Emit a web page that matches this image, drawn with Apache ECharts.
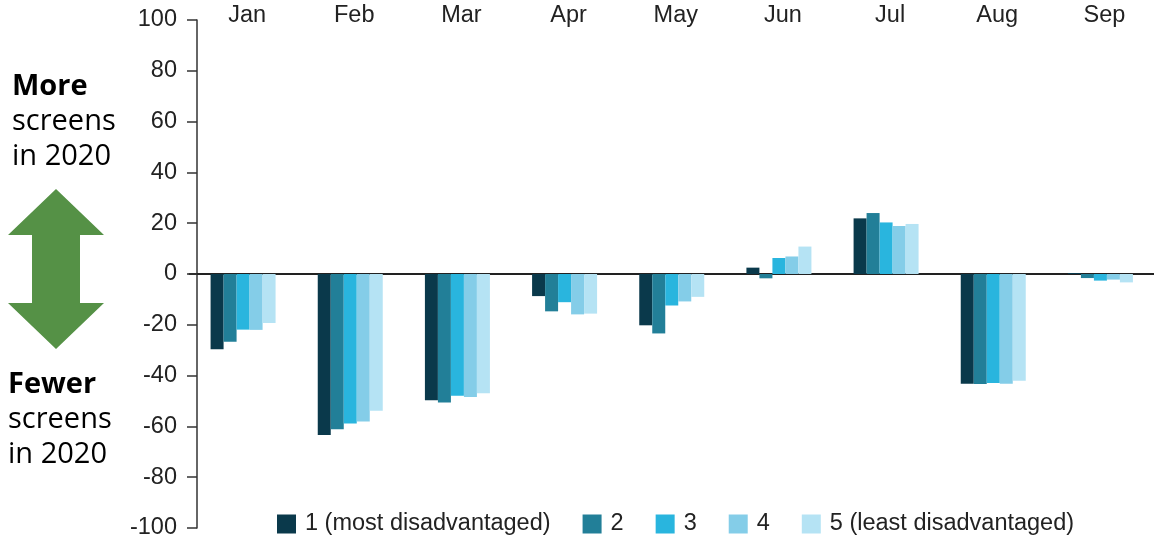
<!DOCTYPE html>
<html>
<head>
<meta charset="utf-8">
<script src="https://cdn.jsdelivr.net/npm/echarts@6/dist/echarts.min.js"></script>
<style>
  html, body { margin: 0; padding: 0; background: #fff; }
  #chart { width: 1154px; height: 540px; }
</style>
</head>
<body>
<div id="chart"></div>
<script>
// months along the top
const months = ['Jan', 'Feb', 'Mar', 'Apr', 'May', 'Jun', 'Jul', 'Aug', 'Sep'];
const groupNames = ['1 (most disadvantaged)', '2', '3', '4', '5 (least disadvantaged)'];
const groupColors = ['#0a394b', '#227f98', '#29b5de', '#84cde8', '#b5e3f4'];

// % change in screens, by disadvantage quintile
const q1 = [-29.6, -63.4, -49.7, -8.7, -20.2, 2.5, 21.9, -43.2, 0.4];
const q2 = [-26.7, -61.1, -50.6, -14.7, -23.4, -1.7, 24.0, -43.3, -1.6];
const q3 = [-21.9, -58.9, -47.9, -11.1, -12.4, 6.3, 20.3, -42.9, -2.6];
const q4 = [-22.0, -58.1, -48.4, -15.9, -10.8, 6.9, 18.9, -43.2, -2.2];
const q5 = [-19.3, -53.8, -46.9, -15.6, -9.0, 10.8, 19.7, -42.0, -3.3];
const quintiles = [q1, q2, q3, q4, q5];

const yTicks = { min: -100, max: 100, step: 20 };

const chart = echarts.init(document.getElementById('chart'));

const series = quintiles.map((vals, i) => ({
  name: groupNames[i],
  type: 'bar',
  data: vals,
  barWidth: 13,
  barGap: '0%',
  itemStyle: { color: groupColors[i] }
}));

// green up/down arrow on the left
const arrowPts = [[56, 189], [104, 235], [80, 235], [80, 303], [104, 303],
  [56, 349], [8, 303], [32, 303], [32, 235], [8, 235]];

const leftText = (txt, x, y, bold) => ({
  type: 'text', left: x, top: y,
  style: {
    text: txt, fill: '#000',
    font: (bold ? 'bold ' : '') + '29px "Open Sans"'
  }
});

chart.setOption({
  animation: false,
  textStyle: { fontFamily: 'Liberation Sans' },
  grid: { left: 189.5, right: -7.5, top: 20, bottom: 8, containLabel: false },
  legend: {
    data: groupNames,
    left: 272, top: 507,
    itemWidth: 19, itemHeight: 19, itemGap: 32,
    icon: 'rect',
    textStyle: { fontSize: 23.5, color: '#222', fontFamily: 'Liberation Sans', padding: [0, 0, 0, 4] }
  },
  xAxis: [{
    type: 'category',
    data: months,
    position: 'top',
    axisLine: { show: false, onZero: false },
    axisTick: { show: false },
    axisLabel: { fontSize: 23.5, color: '#222', margin: -8, padding: [0, 0, 0, 8] }
  }, {
    type: 'category',
    data: months,
    position: 'bottom',
    axisLine: { show: true, onZero: true, lineStyle: { color: '#222', width: 2 } },
    axisTick: { show: false },
    axisLabel: { show: false }
  }],
  yAxis: {
    type: 'value',
    min: yTicks.min, max: yTicks.max, interval: yTicks.step,
    offset: -7.5,
    splitLine: { show: false },
    axisLine: { show: true, lineStyle: { color: '#333', width: 1.5 } },
    axisTick: { show: true, length: 10, lineStyle: { color: '#333', width: 1.5 } },
    axisLabel: { fontSize: 23.5, color: '#222', margin: 20 }
  },
  graphic: [
    { type: 'polygon', shape: { points: arrowPts }, style: { fill: '#559146' } },
    leftText('More', 12, 72, true),
    leftText('screens', 12, 107, false),
    leftText('in 2020', 12, 142, false),
    leftText('Fewer', 8, 370, true),
    leftText('screens', 8, 405, false),
    leftText('in 2020', 8, 440, false)
  ],
  series: series
});
</script>
</body>
</html>
